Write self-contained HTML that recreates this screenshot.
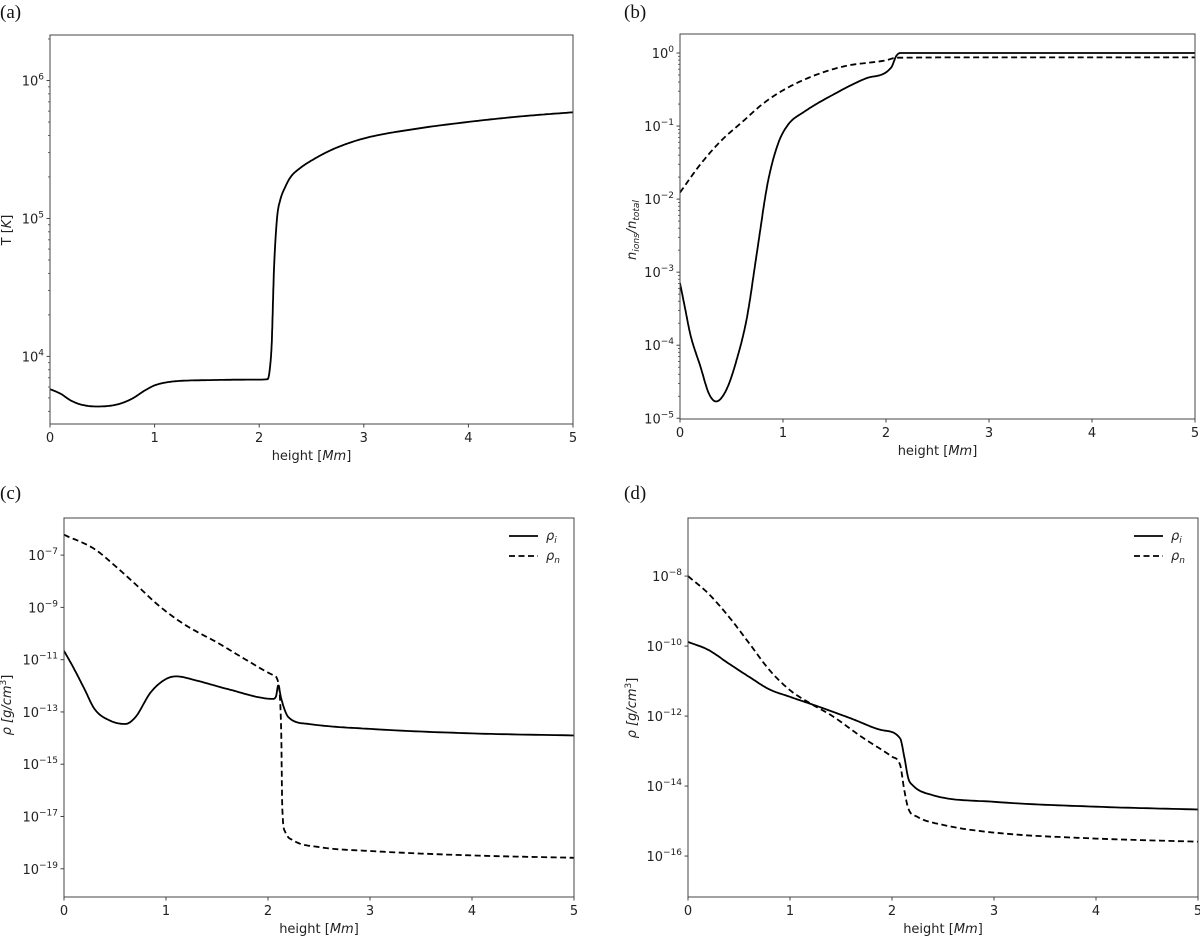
<!DOCTYPE html>
<html><head><meta charset="utf-8"><style>
html,body{margin:0;padding:0;background:#fff;}
svg text{font-family:"DejaVu Sans","Liberation Sans",sans-serif;fill:#222;}
.pl{font-family:"Liberation Serif",serif !important;font-size:19px;fill:#111;}
</style></head><body>
<svg id="fig" width="1200" height="936" viewBox="0 0 1200 936" xmlns="http://www.w3.org/2000/svg"></svg>
<script>
// ---- Panel (a): temperature ----
const aHeight=[0,0.1,0.2,0.3,0.45,0.6,0.7,0.8,0.9,1.0,1.1,1.2,1.5,2.0,2.08,2.1,2.12,2.14,2.17,2.2,2.25,2.3,2.4,2.5,2.7,3,3.5,4,4.5,5];
const aTemp=[5794,5370,4786,4467,4335,4416,4624,5012,5623,6166,6457,6607,6730,6792,6839,7943,12590,39810,100000,134900,169800,199500,234400,263000,316200,380200,446700,501200,549500,588800];
const aTicks=[4,5,6];
// ---- Panel (b): ionisation fraction (log10) ----
const bIonHeight=[0,0.05,0.1,0.2,0.28,0.35,0.45,0.55,0.65,0.75,0.85,0.95,1.05,1.2,1.5,1.8,2.05,2.1,2.14,3,4,5];
const bIonLog=[-3.15,-3.5,-3.85,-4.3,-4.66,-4.77,-4.61,-4.2,-3.62,-2.7,-1.79,-1.25,-0.98,-0.81,-0.56,-0.35,-0.2,-0.04,0,0,0,0];
const bNeuHeight=[0,0.2,0.4,0.6,0.8,1.0,1.3,1.6,2.0,2.1,3,5];
const bNeuLog=[-1.91,-1.52,-1.2,-0.95,-0.70,-0.51,-0.31,-0.18,-0.1,-0.065,-0.06,-0.06];
const bTicks=[0,-1,-2,-3,-4,-5];
// ---- Panel (c): densities (log10) ----
const cIonHeight=[0,0.1,0.2,0.3,0.45,0.6,0.7,0.85,1.0,1.1,1.3,1.6,2.05,2.08,2.1,2.13,2.2,2.4,3,4,5];
const cIonLog=[-10.66,-11.36,-12.12,-12.89,-13.33,-13.46,-13.2,-12.25,-11.74,-11.64,-11.8,-12.12,-12.5,-12.38,-11.99,-12.5,-13.2,-13.46,-13.65,-13.82,-13.9];
const cNeuHeight=[0,0.3,0.5,0.7,0.95,1.2,1.5,1.8,2.05,2.1,2.13,2.14,2.17,2.25,2.5,3,4,5];
const cNeuLog=[-6.22,-6.77,-7.41,-8.11,-9.0,-9.7,-10.34,-11.04,-11.59,-11.87,-13.9,-16.7,-17.6,-17.92,-18.17,-18.32,-18.49,-18.58];
const cTicks=[-7,-9,-11,-13,-15,-17,-19];
// ---- Panel (d): densities (log10) ----
const dIonHeight=[0,0.2,0.4,0.6,0.8,1.0,1.3,1.6,1.9,2.08,2.12,2.16,2.2,2.4,3,4,5];
const dIonLog=[-9.88,-10.11,-10.5,-10.88,-11.24,-11.45,-11.75,-12.07,-12.4,-12.64,-13.16,-13.78,-13.97,-14.26,-14.45,-14.59,-14.67];
const dNeuHeight=[0,0.2,0.4,0.6,0.8,1.0,1.2,1.4,1.7,2.0,2.08,2.12,2.16,2.25,2.5,3,4,5];
const dNeuLog=[-8.0,-8.5,-9.16,-9.92,-10.69,-11.26,-11.64,-11.97,-12.59,-13.16,-13.4,-14.11,-14.64,-14.88,-15.11,-15.33,-15.5,-15.59];
const dTicks=[-8,-10,-12,-14,-16];
const xTicks=[0,1,2,3,4,5];

const NS="http://www.w3.org/2000/svg";
const svg=document.getElementById('fig');
function mk(tag,attrs,parent){const e=document.createElementNS(NS,tag);for(const k in attrs)e.setAttribute(k,attrs[k]);(parent||svg).appendChild(e);return e;}

// monotone cubic (Fritsch-Carlson) resampling for smooth curves without overshoot
function smooth(xs,ys){
  const n=xs.length;if(n<3)return xs.map((x,i)=>[x,ys[i]]);
  const d=[],m=new Array(n);
  for(let i=0;i<n-1;i++)d.push((ys[i+1]-ys[i])/(xs[i+1]-xs[i]));
  m[0]=d[0];m[n-1]=d[n-2];
  for(let i=1;i<n-1;i++)m[i]=(d[i-1]*d[i]<=0)?0:(d[i-1]+d[i])/2;
  for(let i=0;i<n-1;i++){
    if(d[i]===0){m[i]=0;m[i+1]=0;continue;}
    const a=m[i]/d[i],b=m[i+1]/d[i],s=a*a+b*b;
    if(s>9){const t=3/Math.sqrt(s);m[i]=t*a*d[i];m[i+1]=t*b*d[i];}
  }
  const out=[];
  for(let i=0;i<n-1;i++){
    const h=xs[i+1]-xs[i],N=16;
    for(let k=0;k<N;k++){
      const t=k/N,t2=t*t,t3=t2*t;
      const y=(2*t3-3*t2+1)*ys[i]+(t3-2*t2+t)*h*m[i]+(-2*t3+3*t2)*ys[i+1]+(t3-t2)*h*m[i+1];
      out.push([xs[i]+t*h,y]);
    }
  }
  out.push([xs[n-1],ys[n-1]]);
  return out;
}

function panel(p){
  const g=mk('g',{});
  
  
  const xs=h=>p.x0+(h/5)*(p.x1-p.x0);
  const ys=l=>p.y1-(l-p.lmin)/(p.lmax-p.lmin)*(p.y1-p.y0);
  const lt=mk('text',{x:p.lx,y:p.ly,class:'pl'},g);lt.textContent=p.letter;
  
  
  if(p.minor){
    for(let k=Math.floor(p.lmin);k<Math.ceil(p.lmax);k++){
      for(let m=2;m<10;m++){const l=k+Math.log10(m);if(l<p.lmin||l>p.lmax)continue;
        mk('line',{x1:p.x0-2,x2:p.x0,y1:ys(l),y2:ys(l),stroke:'#444','stroke-width':0.8},g);}
    }
  }
  p.ticks.forEach(t=>{
    const y=ys(t);
    mk('line',{x1:p.x0-3.5,x2:p.x0,y1:y,y2:y,stroke:'#444','stroke-width':1},g);
    const tx=mk('text',{x:p.x0-6,y:y+5,'text-anchor':'end','font-size':13},g);
    
    
    const a=mk('tspan',{},tx);a.textContent='10';
    const b=mk('tspan',{dy:-6,'font-size':9},tx);b.textContent=(t<0?'\u2212'+(-t):String(t));
  });
  xTicks.forEach(t=>{
    const x=xs(t);
    mk('line',{x1:x,x2:x,y1:p.y1,y2:p.y1+3.5,stroke:'#444','stroke-width':1},g);
    const tx=mk('text',{x:x,y:p.y1+18,'text-anchor':'middle','font-size':13},g);tx.textContent=t;
    
    
  });
  const xt=mk('text',{x:(p.x0+p.x1)/2,y:p.y1+36,'text-anchor':'middle','font-size':13},g);
  
  
  const t1=mk('tspan',{},xt);t1.textContent='height [';
  const t2=mk('tspan',{'font-style':'italic'},xt);t2.textContent='Mm';
  const t3=mk('tspan',{},xt);t3.textContent=']';
  const yt=mk('text',{transform:`translate(${p.ytx},${p.yty}) rotate(-90)`,'text-anchor':'middle','font-size':13},g);
  
  
  p.ytitle(yt);
  const clip='clip'+p.letter.replace(/\W/g,'');
  const cp=mk('clipPath',{id:clip},g);mk('rect',{x:p.x0,y:p.y0,width:p.x1-p.x0,height:p.y1-p.y0},cp);
  p.series.forEach(s=>{
    const pts=smooth(s.h,s.l);
    const d=pts.map((q,i)=>(i?'L':'M')+xs(q[0]).toFixed(1)+','+ys(q[1]).toFixed(1)).join(' ');
    const path=mk('path',{d:d,fill:'none',stroke:'#000','stroke-width':1.8,'stroke-linejoin':'round','clip-path':`url(#${clip})`},g);
    if(s.dash)path.setAttribute('stroke-dasharray','6,3.5');
    
    
  });
  const fr=mk('rect',{x:p.x0,y:p.y0,width:p.x1-p.x0,height:p.y1-p.y0,fill:'none',stroke:'#444','stroke-width':1},g);
  
  
  if(p.legend){
    const lg=mk('g',{},g);
    
    
    [['i',false,536],['n',true,556]].forEach(([sub,dash,y])=>{
      const ln=mk('line',{x1:p.legend,x2:p.legend+29,y1:y,y2:y,stroke:'#000','stroke-width':1.8},lg);
      if(dash)ln.setAttribute('stroke-dasharray','6,3.5');
      const tx=mk('text',{x:p.legend+37,y:y+4,'font-size':13,'font-style':'italic'},lg);
      
      
      const a=mk('tspan',{},tx);a.textContent='\u03C1';
      const b=mk('tspan',{dy:3,'font-size':9},tx);b.textContent=sub;
    });
  }
}
const rhoTitle=yt=>{
  const a=mk('tspan',{'font-style':'italic'},yt);a.textContent='\u03C1  [';
  const b=mk('tspan',{'font-style':'italic'},yt);b.textContent='g/cm';
  const c=mk('tspan',{dy:-5,'font-size':9},yt);c.textContent='3';
  const d=mk('tspan',{dy:5},yt);d.textContent=']';
};
panel({name:'panel-a-temperature',letter:'(a)',lx:0,ly:18,x0:50,x1:573,y0:35,y1:424,lmin:3.51,lmax:6.33,ticks:aTicks,minor:true,ytx:11,yty:230,
  ytitle:yt=>{const a=mk('tspan',{},yt);a.textContent='T [';const b=mk('tspan',{'font-style':'italic'},yt);b.textContent='K';const c=mk('tspan',{},yt);c.textContent=']';},
  series:[{name:'temperature-line',h:aHeight,l:aTemp.map(v=>Math.log10(v))}]});
panel({name:'panel-b-ionisation',letter:'(b)',lx:624,ly:18,x0:680,x1:1195,y0:34,y1:419,lmin:-5.01,lmax:0.26,ticks:bTicks,minor:true,ytx:636,yty:230,
  ytitle:yt=>{const a=mk('tspan',{'font-style':'italic'},yt);a.textContent='n';const b=mk('tspan',{dy:3,'font-size':9,'font-style':'italic'},yt);b.textContent='ions';
    const c=mk('tspan',{dy:-3,'font-style':'italic'},yt);c.textContent='/n';const d=mk('tspan',{dy:3,'font-size':9,'font-style':'italic'},yt);d.textContent='total';},
  series:[{name:'ion-fraction-line',h:bIonHeight,l:bIonLog},{name:'neutral-fraction-line',h:bNeuHeight,l:bNeuLog,dash:true}]});
panel({name:'panel-c-density',letter:'(c)',lx:0,ly:499,x0:64,x1:574,y0:518,y1:897,lmin:-20.08,lmax:-5.58,ticks:cTicks,minor:false,ytx:11,yty:705,
  ytitle:rhoTitle,legend:509,
  series:[{name:'ion-density-line',h:cIonHeight,l:cIonLog},{name:'neutral-density-line',h:cNeuHeight,l:cNeuLog,dash:true}]});
panel({name:'panel-d-density',letter:'(d)',lx:624,ly:499,x0:688,x1:1198,y0:518,y1:897,lmin:-17.17,lmax:-6.34,ticks:dTicks,minor:false,ytx:636,yty:708,
  ytitle:rhoTitle,legend:1134,
  series:[{name:'ion-density-line',h:dIonHeight,l:dIonLog},{name:'neutral-density-line',h:dNeuHeight,l:dNeuLog,dash:true}]});
</script>
</body></html>
